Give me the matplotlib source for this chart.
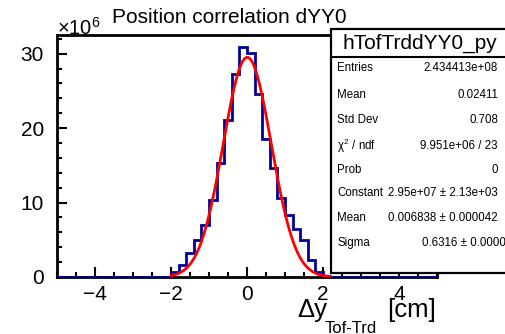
import numpy as np
import matplotlib.pyplot as plt
from matplotlib.patches import Rectangle
from matplotlib.lines import Line2D

plt.rcParams['font.family'] = ['Liberation Sans', 'DejaVu Sans']
plt.rcParams['mathtext.fontset'] = 'custom'
plt.rcParams['mathtext.rm'] = 'Liberation Sans'
plt.rcParams['mathtext.it'] = 'Liberation Sans'

# dYY0 histogram, 0.2 cm bins from -5 to 5, counts in units of 1e6
edges = np.linspace(-5, 5, 51)
core = [0.7, 1.6, 3.2, 5.0, 7.0, 10.4, 15.3, 21.1, 27.3, 30.9,
        30.1, 24.6, 18.6, 14.6, 10.6, 8.3, 6.5, 5.0, 2.3, 0.7]
counts = np.array([0.0] * 15 + core + [0.0] * 15)

# gaus fit result
fit_const = 2.95e7
fit_mean = 0.006838
fit_sigma = 0.6316
fit_range = (-2.0, 2.2)

stat_names = ['Entries', 'Mean', 'Std Dev', r'$\chi^{2}$ / ndf', 'Prob',
              'Constant', 'Mean', 'Sigma']
stat_values = ['2.434413e+08', '0.02411', '0.708', '9.951e+06 / 23', '0',
               '2.95e+07 \u00b1 2.13e+03', '0.006838 \u00b1 0.000042',
               '0.6316 \u00b1 0.0000']

W, H = 505, 334
fig = plt.figure(figsize=(W / 100, H / 100), dpi=100)
ax = fig.add_axes([57/W, 57/H, 380/W, 242/H])

def fx(px):
    return px / W

def fy(py):
    return 1 - py / H

ax.stairs(counts, edges, color='#000099', lw=2, zorder=3)
xf = np.linspace(fit_range[0], fit_range[1], 200)
yf = fit_const * np.exp(-0.5 * ((xf - fit_mean) / fit_sigma) ** 2) / 1e6
ax.plot(xf, yf, color='red', lw=2, zorder=4)

ax.set_xlim(-5, 5)
ax.set_ylim(0, 32.5)
ax.set_xticks([-4, -2, 0, 2, 4])
ax.set_xticklabels(['\u22124', '\u22122', '0', '2', '4'])
ax.set_xticks(np.arange(-5, 5.01, 0.5), minor=True)
ax.set_yticks([0, 10, 20, 30])
ax.set_yticks(np.arange(0, 32.5, 2), minor=True)
ax.tick_params(which='both', direction='in', top=False, right=False,
               labelsize=15, width=1.5)
ax.tick_params(which='major', length=7)
ax.tick_params(axis='x', which='major', pad=6)
ax.tick_params(axis='y', which='major', pad=9.5)
ax.tick_params(which='minor', length=3.5)
for s in ax.spines.values():
    s.set_linewidth(2)

fig.text(fx(57), fy(35), r'$\times10^{6}$', fontsize=14.5, va='baseline')
fig.text(fx(112), fy(23), 'Position correlation dYY0', fontsize=15,
         va='baseline')

# x axis title: delta y with subscript, then unit
fig.text(fx(297), fy(317), '\u0394y', fontsize=18.5, va='baseline')
fig.text(fx(325), fy(333), 'Tof-Trd', fontsize=12, va='baseline')
fig.text(fx(436), fy(317), '[cm]', fontsize=18.5, va='baseline', ha='right')

# stats box
bx0, by0, by1 = fx(331), fy(273), fy(29)
fig.patches.append(Rectangle((bx0, by0), 1.2 - bx0, by1 - by0,
                             transform=fig.transFigure, facecolor='white',
                             edgecolor='black', lw=1.6, zorder=5))
fig.lines.append(Line2D([bx0, 1.2], [fy(57)] * 2, transform=fig.transFigure,
                        color='black', lw=1.5, zorder=6))
fig.text(fx(342), fy(43), 'hTofTrddYY0_py', fontsize=15, va='center',
         zorder=7)
rows = [68, 95, 120, 146, 170, 193, 218, 243]
for name, val, ry in zip(stat_names, stat_values, rows):
    fig.text(fx(337), fy(ry), name, fontsize=8.3, va='center', zorder=7)
    xr = 506 if name == 'Sigma' else 498
    fig.text(fx(xr), fy(ry), val, fontsize=8.3, va='center', ha='right',
             zorder=7)

fig.savefig('out.png', dpi=100)
